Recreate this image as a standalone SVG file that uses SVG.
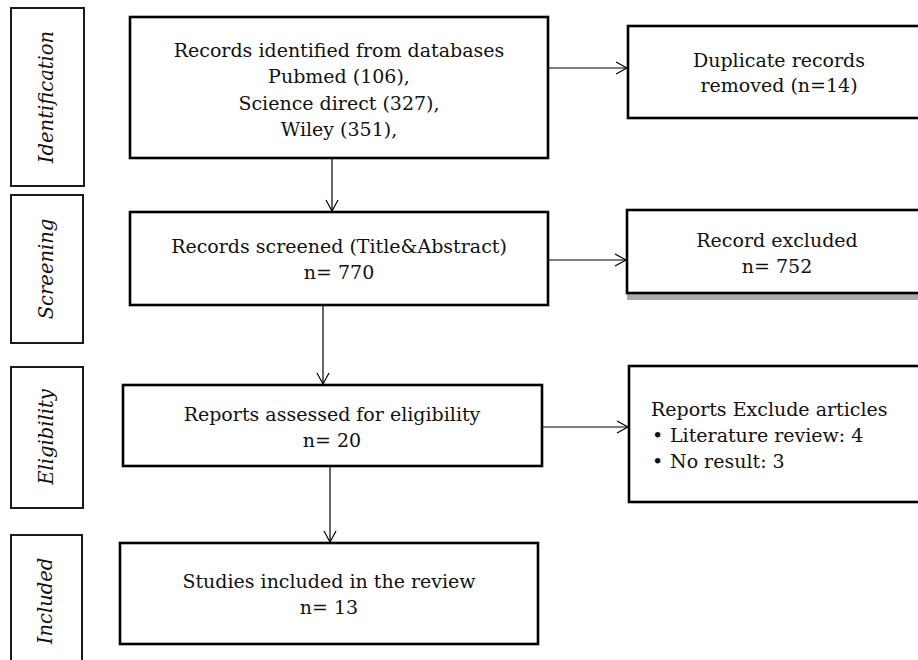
<svg xmlns="http://www.w3.org/2000/svg" width="918" height="660" viewBox="0 0 918 660">
  <defs>
    <marker id="arr" markerWidth="14" markerHeight="14" refX="12" refY="7" orient="auto" markerUnits="userSpaceOnUse">
      <path d="M1,1 L12,7 L1,13" fill="none" stroke="#000" stroke-width="1.2"/>
    </marker>
    <style>
      .lbl { fill: #fff; stroke: #1a1a1a; stroke-width: 2; }
      .box { fill: #fff; stroke: #000; stroke-width: 2.6; }
      .t { font-family: "DejaVu Serif", "Liberation Serif", serif; font-size: 19px; fill: #111; }
      .c { text-anchor: middle; }
      .it { font-family: "DejaVu Serif", "Liberation Serif", serif; font-size: 19.5px; font-style: italic; fill: #111; text-anchor: middle; }
      .ln { stroke: #000; stroke-width: 1.2; fill: none; }
    </style>
  </defs>
  <rect width="918" height="660" fill="#fff"/>

  <g id="stage-identification">
    <rect class="lbl" x="11" y="8" width="73" height="178"/>
    <text class="it" transform="translate(53,97) rotate(-90)">Identification</text>
  </g>
  <g id="stage-screening">
    <rect class="lbl" x="11" y="195" width="72" height="148"/>
    <text class="it" transform="translate(53,269) rotate(-90)">Screening</text>
  </g>
  <g id="stage-eligibility">
    <rect class="lbl" x="11" y="367" width="72" height="141"/>
    <text class="it" transform="translate(53,437) rotate(-90)">Eligibility</text>
  </g>
  <g id="stage-included">
    <rect class="lbl" x="11" y="535" width="71" height="140"/>
    <text class="it" transform="translate(52,601) rotate(-90)">Included</text>
  </g>

  <g id="identified">
    <rect class="box" x="130" y="17" width="418" height="141"/>
    <text class="t c" x="339" y="57">Records identified from databases</text>
    <text class="t c" x="339" y="83">Pubmed (106),</text>
    <text class="t c" x="339" y="110">Science direct (327),</text>
    <text class="t c" x="339" y="136">Wiley (351),</text>
  </g>
  <g id="duplicates">
    <rect class="box" x="628" y="26" width="310" height="92"/>
    <text class="t c" x="779" y="67">Duplicate records</text>
    <text class="t c" x="779" y="92">removed (n=14)</text>
  </g>
  <g id="screened">
    <rect class="box" x="130" y="212" width="418" height="93"/>
    <text class="t c" x="339" y="253">Records screened (Title&amp;Abstract)</text>
    <text class="t c" x="339" y="279">n= 770</text>
  </g>
  <g id="excluded">
    <rect x="627" y="294" width="300" height="6" fill="#aaa"/>
    <rect class="box" x="627" y="210" width="310" height="83"/>
    <text class="t c" x="777" y="247">Record excluded</text>
    <text class="t c" x="777" y="273">n= 752</text>
  </g>
  <g id="eligibility">
    <rect class="box" x="123" y="385" width="419" height="81"/>
    <text class="t c" x="332" y="421">Reports assessed for eligibility</text>
    <text class="t c" x="332" y="447">n= 20</text>
  </g>
  <g id="reports-excluded">
    <rect class="box" x="629" y="366" width="310" height="136"/>
    <text class="t" x="651" y="416">Reports Exclude articles</text>
    <text class="t" x="652" y="442">•</text>
    <text class="t" x="670" y="442">Literature review: 4</text>
    <text class="t" x="652" y="468">•</text>
    <text class="t" x="670" y="468">No result: 3</text>
  </g>
  <g id="included">
    <rect class="box" x="120" y="543" width="418" height="101"/>
    <text class="t c" x="329" y="588">Studies included in the review</text>
    <text class="t c" x="329" y="614">n= 13</text>
  </g>

  <g id="connectors">
    <line class="ln" x1="548" y1="68" x2="627" y2="68" marker-end="url(#arr)"/>
    <line class="ln" x1="332" y1="158" x2="332" y2="211" marker-end="url(#arr)"/>
    <line class="ln" x1="548" y1="260" x2="626" y2="260" marker-end="url(#arr)"/>
    <line class="ln" x1="323" y1="305" x2="323" y2="384" marker-end="url(#arr)"/>
    <line class="ln" x1="542" y1="427" x2="628" y2="427" marker-end="url(#arr)"/>
    <line class="ln" x1="330" y1="466" x2="330" y2="542" marker-end="url(#arr)"/>
  </g>
</svg>
